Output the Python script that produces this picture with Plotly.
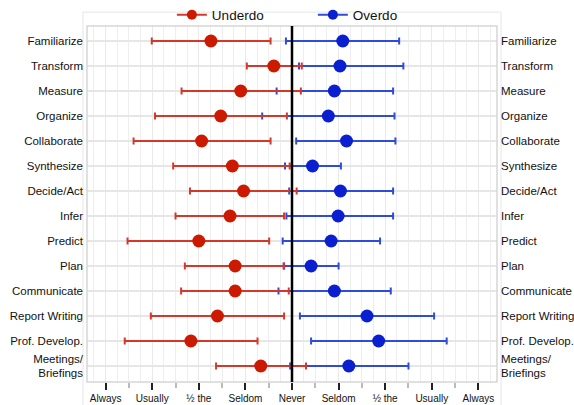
import plotly.graph_objects as go

categories = ["Familiarize", "Transform", "Measure", "Organize", "Collaborate",
              "Synthesize", "Decide/Act", "Infer", "Predict", "Plan",
              "Communicate", "Report Writing", "Prof. Develop.", "Meetings/<br>Briefings"]

# Underdo (negative side): mean, low, high
under_mean = [-1.74, -0.39, -1.10, -1.53, -1.94, -1.28, -1.04, -1.33, -2.00, -1.22, -1.22, -1.60, -2.17, -0.67]
under_low  = [-3.01, -0.97, -2.37, -2.94, -3.40, -2.55, -2.19, -2.50, -3.53, -2.30, -2.38, -3.03, -3.59, -1.63]
under_high = [-0.46,  0.21,  0.19, -0.11, -0.46, -0.05,  0.10, -0.17, -0.49, -0.17, -0.07, -0.17, -0.74,  0.30]

# Overdo (positive side): mean, low, high
over_mean = [1.09, 1.03, 0.91, 0.78, 1.17, 0.44, 1.04, 0.99, 0.84, 0.41, 0.91, 1.61, 1.86, 1.22]
over_low  = [-0.13, 0.15, -0.33, -0.64, 0.09, -0.15, -0.06, -0.12, -0.20, -0.18, -0.29, 0.17, 0.41, -0.04]
over_high = [2.30, 2.39, 2.17, 2.20, 2.22, 1.05, 2.17, 2.17, 1.89, 1.00, 2.12, 3.05, 3.32, 2.50]

x_tickvals = [-4, -3, -2, -1, 0, 1, 2, 3, 4]
x_ticktext = ["Always", "Usually", "½ the<br>Time", "Seldom", "Never",
              "Seldom", "½ the<br>Time", "Usually", "Always"]
x_halfticks = [-3.5, -2.5, -1.5, -0.5, 0.5, 1.5, 2.5, 3.5]

idx = list(range(len(categories)))
FONT = "Liberation Sans, Arial, sans-serif"

RED_M, RED_B = "#cc1a00", "#d4382a"
BLUE_M, BLUE_B = "#0a1fd0", "#2f4cd8"

fig = go.Figure()

fig.add_trace(go.Scatter(
    x=over_mean, y=idx, mode="markers", name="Overdo", showlegend=False,
    marker=dict(size=13, color=BLUE_M),
    error_x=dict(type="data", symmetric=False,
                 array=[h - m for h, m in zip(over_high, over_mean)],
                 arrayminus=[m - l for m, l in zip(over_mean, over_low)],
                 color=BLUE_B, thickness=2, width=3.5),
))
fig.add_trace(go.Scatter(
    x=under_mean, y=idx, mode="markers", name="Underdo", showlegend=False,
    marker=dict(size=13, color=RED_M),
    error_x=dict(type="data", symmetric=False,
                 array=[h - m for h, m in zip(under_high, under_mean)],
                 arrayminus=[m - l for m, l in zip(under_mean, under_low)],
                 color=RED_B, thickness=2, width=3.5),
))
# legend entries (line + marker symbol)
fig.add_trace(go.Scatter(x=[None], y=[None], mode="lines+markers", name="Underdo",
                         line=dict(color=RED_B, width=2), marker=dict(size=10, color=RED_M),
                         legendrank=1))
fig.add_trace(go.Scatter(x=[None], y=[None], mode="lines+markers", name="Overdo",
                         line=dict(color=BLUE_B, width=2), marker=dict(size=10, color=BLUE_M),
                         legendrank=2))
# invisible helper trace so the mirrored axes render
fig.add_trace(go.Scatter(x=[0], y=[0], xaxis="x2", yaxis="y2", mode="markers",
                         marker=dict(opacity=0), showlegend=False, hoverinfo="skip"))

yrange = [13.64, -0.6]
xrange = [-4.4, 4.4]

fig.update_layout(
    width=574, height=405,
    margin=dict(l=87, r=77, t=26, b=23, autoexpand=False),
    paper_bgcolor="white", plot_bgcolor="white",
    font=dict(family=FONT, size=11.5, color="#111"),
    showlegend=True,
    legend=dict(orientation="h", x=0.207, xanchor="left", y=1.031, yanchor="middle",
                font=dict(size=13.5, color="#111"), bgcolor="rgba(0,0,0,0)",
                itemwidth=30, entrywidth=96, tracegroupgap=0),
    xaxis=dict(range=xrange, tickmode="array", tickvals=x_tickvals, ticktext=x_ticktext,
               showgrid=True, gridcolor="#e9e9e9", gridwidth=1,
               zeroline=False, showline=False, automargin=False,
               ticks="outside", ticklen=7, tickwidth=2, tickcolor="#222",
               tickfont=dict(size=10, color="#111"),
               minor=dict(tickmode="linear", tick0=0, dtick=0.25, showgrid=True,
                          gridcolor="#eeeeee", gridwidth=1, ticks=""),
               fixedrange=True),
    xaxis2=dict(range=xrange, overlaying="x", side="bottom", tickmode="array",
                tickvals=x_halfticks, showticklabels=False, showgrid=False,
                zeroline=False, ticks="outside", ticklen=5, tickwidth=1.5,
                tickcolor="#bbbbbb", automargin=False),
    yaxis=dict(range=yrange, tickmode="array", tickvals=idx, ticktext=categories,
               showgrid=True, gridcolor="#e6e6e6", gridwidth=1.5, automargin=False,
               zeroline=False, showline=False, ticks="", ticklabelstandoff=3),
    yaxis2=dict(range=yrange, overlaying="y", side="right", tickmode="array",
                tickvals=idx, ticktext=categories, showgrid=False, zeroline=False,
                ticks="", ticklabelstandoff=3, automargin=False),
    shapes=[
        dict(type="rect", xref="paper", yref="paper", x0=0, x1=1, y0=0, y1=1,
             line=dict(color="#d6d6d6", width=1.5), layer="above"),
        dict(type="rect", xref="paper", yref="paper", x0=-0.0098, x1=1.0098,
             y0=-0.12, y1=1.039, line=dict(color="#e6e6e6", width=1), layer="below"),
        dict(type="line", xref="x", yref="paper", x0=0, x1=0, y0=0, y1=1,
             line=dict(color="black", width=2.5), layer="above"),
    ],
)

fig.write_html("out.html", config={"displayModeBar": False},
               post_script="document.body.style.margin='0';")
